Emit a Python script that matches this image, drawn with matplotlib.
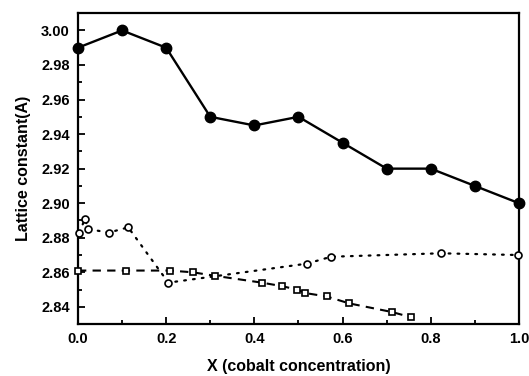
import matplotlib
matplotlib.use("Agg")
import matplotlib.pyplot as plt
from matplotlib.ticker import MultipleLocator

plt.rcParams['font.family'] = ['Liberation Sans', 'DejaVu Sans']
plt.rcParams['font.weight'] = 'bold'

# Filled circles (solid line)
x_filled = [0.0, 0.1, 0.2, 0.3, 0.4, 0.5, 0.6, 0.7, 0.8, 0.9, 1.0]
y_filled = [2.990, 3.000, 2.990, 2.950, 2.945, 2.950, 2.935, 2.920, 2.920, 2.910, 2.900]

# Open circles (dotted line)
x_open_c = [0.003, 0.016, 0.023, 0.070, 0.114, 0.205, 0.519, 0.574, 0.823, 0.998]
y_open_c = [2.883, 2.891, 2.885, 2.883, 2.886, 2.854, 2.865, 2.869, 2.871, 2.870]

# Open squares (dashed line)
x_sq = [0.0, 0.110, 0.208, 0.260, 0.310, 0.417, 0.462, 0.497, 0.515, 0.564, 0.615, 0.712, 0.755]
y_sq = [2.861, 2.861, 2.861, 2.860, 2.858, 2.854, 2.852, 2.850, 2.848, 2.846, 2.842, 2.837, 2.834]

xticks = [0.0, 0.2, 0.4, 0.6, 0.8, 1.0]
yticks = [2.84, 2.86, 2.88, 2.90, 2.92, 2.94, 2.96, 2.98, 3.00]

fig = plt.figure(figsize=(5.29, 3.76), dpi=100)
ax = fig.add_axes([0.1474, 0.138, 0.981 - 0.1474, 0.965 - 0.138])

ax.plot(x_filled, y_filled, '-', color='black', lw=1.7, marker='o', ms=7.5,
        mfc='black', mec='black', clip_on=False, zorder=3)
ax.plot(x_open_c, y_open_c, color='black', lw=1.6, linestyle=(0, (0.8, 3.2)),
        dash_capstyle='round', marker='o', ms=5,
        mfc='white', mec='black', mew=1.2, clip_on=False, zorder=3)
ax.plot(x_sq, y_sq, color='black', lw=1.5, linestyle=(0, (4, 3)), marker='s', ms=5,
        mfc='white', mec='black', mew=1.2, clip_on=False, zorder=3)

ax.set_xlim(0.0, 1.0)
ax.set_ylim(2.830, 3.010)
ax.set_xticks(xticks)
ax.set_xticklabels([f"{v:.1f}" for v in xticks])
ax.set_yticks(yticks)
ax.set_yticklabels([f"{v:.2f}" for v in yticks])
ax.xaxis.set_minor_locator(MultipleLocator(0.1))
ax.yaxis.set_minor_locator(MultipleLocator(0.01))
ax.tick_params(which='both', direction='in', top=False, right=False, width=1.3)
ax.tick_params(which='major', length=5, labelsize=10.5, pad=6)
ax.tick_params(which='minor', length=3)
for s in ax.spines.values():
    s.set_linewidth(1.6)

ax.set_xlabel('X (cobalt concentration)', fontsize=11.5, fontweight='bold', labelpad=9)
ax.set_ylabel('Lattice constant(A)', fontsize=11.5, fontweight='bold', labelpad=7)

fig.savefig('out.png', dpi=100)
